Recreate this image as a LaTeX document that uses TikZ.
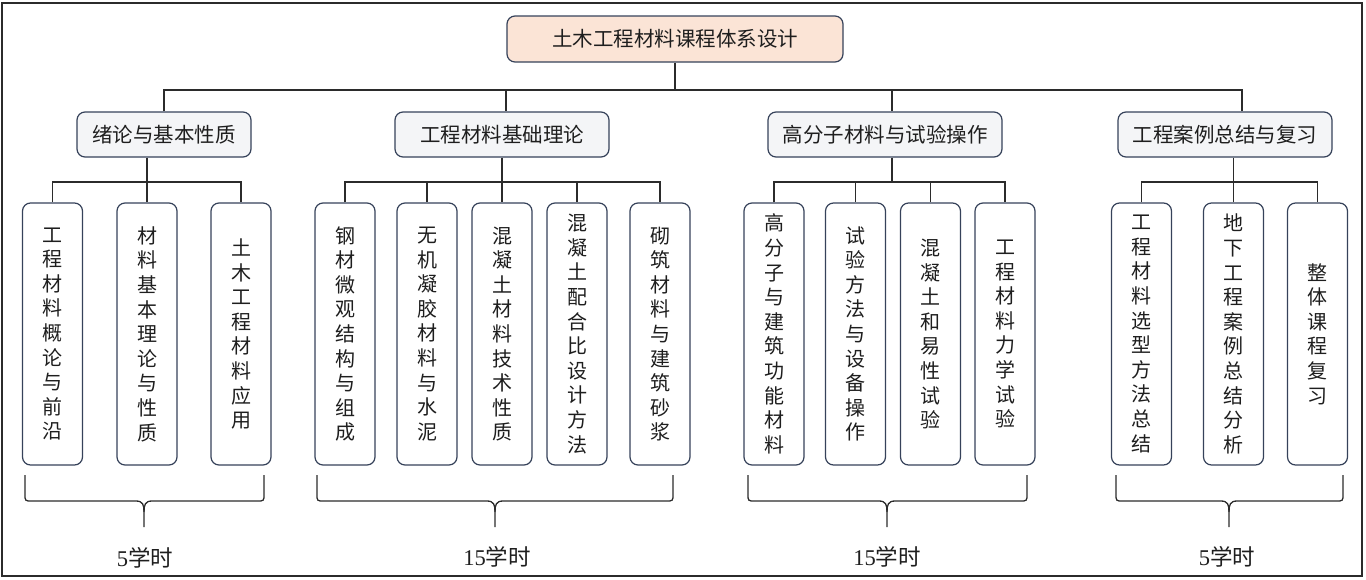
\documentclass[tikz,border=0pt]{standalone}
\usepackage{fontspec}
\setmainfont{Liberation Serif}
\newfontfamily\cjk{Noto Sans CJK SC}
\definecolor{linec}{HTML}{2B2B2B}
\definecolor{boxc}{HTML}{36425A}
\definecolor{rootf}{HTML}{FBE4D6}
\definecolor{midf}{HTML}{F4F5F7}
\definecolor{txtc}{HTML}{1E1E1E}
\newcommand\mybrace[3]{%
  \draw[line] (#1,475) -- (#1,494) .. controls (#1,501) .. (#1+7,501) -- (#2-8,501)
     .. controls (#2-1,501) and (#2,505) .. (#2,512) -- (#2,527);
  \draw[line] (#3,475) -- (#3,494) .. controls (#3,501) .. (#3-7,501) -- (#2+8,501)
     .. controls (#2+1,501) and (#2,505) .. (#2,512);}
\begin{document}
\begin{tikzpicture}[x=1pt,y=-1pt,
  line/.style={draw=linec, line width=1.3pt},
  box/.style={draw=boxc, line width=1.2pt, rounded corners=8pt, inner sep=0pt, align=center, text=txtc},
  rootbox/.style={box, fill=rootf, minimum width=336pt, minimum height=46pt, font=\cjk\fontsize{20.5}{24}\selectfont},
  midbox/.style={box, fill=midf, minimum height=45pt, font=\cjk\fontsize{20.5}{24}\selectfont},
  leafbox/.style={box, fill=white, minimum width=60pt, minimum height=262pt, font=\cjk\fontsize{20}{24.6}\selectfont},
  hours/.style={inner sep=0pt, text=txtc, font=\fontsize{22.5}{26}\selectfont}]
\useasboundingbox (0,0) rectangle (1366,579);
\draw[line width=1.2pt, draw=linec] (2,3) rectangle (1362,576);

\node[rootbox] (root) at (675,39) {土木工程材料课程体系设计};

\node[midbox, minimum width=174pt] (g1) at (164,134.5) {绪论与基本性质};
\node[midbox, minimum width=214pt] (g2) at (502,134.5) {工程材料基础理论};
\node[midbox, minimum width=234pt] (g3) at (885,134.5) {高分子材料与试验操作};
\node[midbox, minimum width=214pt] (g4) at (1225,134.5) {工程案例总结与复习};

\node[leafbox] (c11) at (52.5,334) {工\\程\\材\\料\\概\\论\\与\\前\\沿};
\node[leafbox] (c12) at (147,334) {材\\料\\基\\本\\理\\论\\与\\性\\质};
\node[leafbox] (c13) at (241,334) {土\\木\\工\\程\\材\\料\\应\\用};

\node[leafbox] (c21) at (345,334) {钢\\材\\微\\观\\结\\构\\与\\组\\成};
\node[leafbox] (c22) at (427,334) {无\\机\\凝\\胶\\材\\料\\与\\水\\泥};
\node[leafbox] (c23) at (502,334) {混\\凝\\土\\材\\料\\技\\术\\性\\质};
\node[leafbox] (c24) at (577,334) {混\\凝\\土\\配\\合\\比\\设\\计\\方\\法};
\node[leafbox] (c25) at (660,334) {砌\\筑\\材\\料\\与\\建\\筑\\砂\\浆};

\node[leafbox] (c31) at (774,334) {高\\分\\子\\与\\建\\筑\\功\\能\\材\\料};
\node[leafbox] (c32) at (855.5,334) {试\\验\\方\\法\\与\\设\\备\\操\\作};
\node[leafbox] (c33) at (930.5,334) {混\\凝\\土\\和\\易\\性\\试\\验};
\node[leafbox] (c34) at (1005,334) {工\\程\\材\\料\\力\\学\\试\\验};

\node[leafbox] (c41) at (1141.5,334) {工\\程\\材\\料\\选\\型\\方\\法\\总\\结};
\node[leafbox] (c42) at (1233.5,334) {地\\下\\工\\程\\案\\例\\总\\结\\分\\析};
\node[leafbox] (c43) at (1317.5,334) {整\\体\\课\\程\\复\\习};

\coordinate (tb) at (0,90);
\coordinate (bb) at (0,182);
\coordinate (g2t) at ([xshift=4pt]g2.north);
\coordinate (g3t) at ([xshift=7pt]g3.north);
\coordinate (g4t) at ([xshift=17pt]g4.north);
\coordinate (g3b) at ([xshift=7pt]g3.south);

% top level connectors
\draw[line] (root.south) -- (root.south |- tb);
\draw[line] (g1.north) -- (g1.north |- tb) -- (g4t |- tb) -- (g4t);
\draw[line] (g2t |- tb) -- (g2t);
\draw[line] (g3t |- tb) -- (g3t);

% group 1
\draw[line] (c11.north) -- (c11.north |- bb) -- (c13.north |- bb) -- (c13.north);
\draw[line] (g1.south -| c12.north) -- (c12.north);
% group 2
\draw[line] (c21.north) -- (c21.north |- bb) -- (c25.north |- bb) -- (c25.north);
\draw[line] (c22.north |- bb) -- (c22.north);
\draw[line] (c24.north |- bb) -- (c24.north);
\draw[line] (g2.south -| c23.north) -- (c23.north);
% group 3
\draw[line] (c31.north) -- (c31.north |- bb) -- (c34.north |- bb) -- (c34.north);
\draw[line] (c32.north |- bb) -- (c32.north);
\draw[line] (c33.north |- bb) -- (c33.north);
\draw[line] (g3b) -- (g3b |- bb);
% group 4
\draw[line] (c41.north) -- (c41.north |- bb) -- (c43.north |- bb) -- (c43.north);
\draw[line] (g4.south -| c42.north) -- (c42.north);

% braces
\mybrace{25}{144}{264}
\mybrace{317}{495}{673}
\mybrace{748}{887}{1027}
\mybrace{1116}{1229}{1343}

\node[hours] (h1) at (145,558) {5{\cjk 学时}};
\node[hours] (h2) at (497,557) {15{\cjk 学时}};
\node[hours] (h3) at (887,557) {15{\cjk 学时}};
\node[hours] (h4) at (1227,557) {5{\cjk 学时}};
\end{tikzpicture}
\end{document}
